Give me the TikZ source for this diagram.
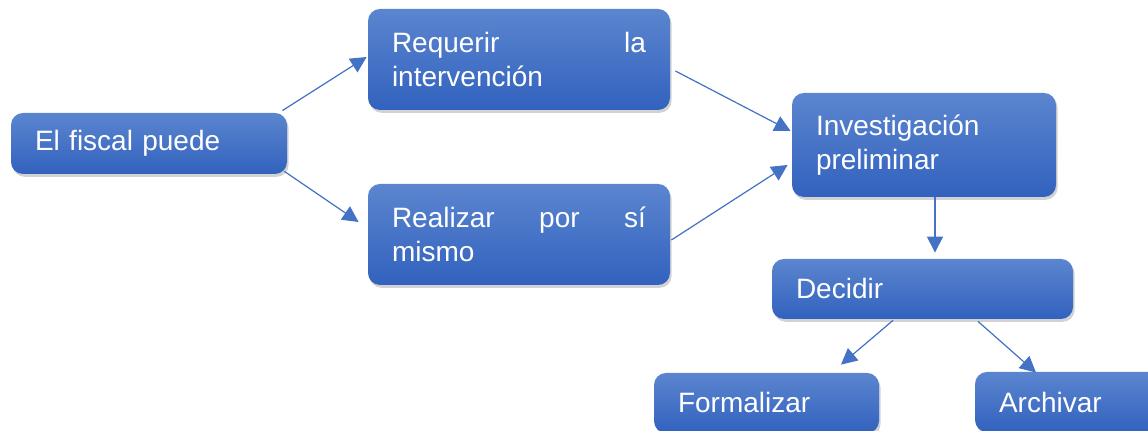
\documentclass[tikz,border=0pt]{standalone}
\usepackage{fontspec}
\setmainfont{Liberation Sans}
\usepackage{tikz}
\usetikzlibrary{arrows.meta,calc,shadows}

\definecolor{boxtop}{HTML}{5B85CF}
\definecolor{boxbot}{HTML}{3262BE}
\definecolor{arrowblue}{HTML}{4472C4}

\tikzset{
  stepbox/.style={draw=none, rounded corners=6pt, top color=boxtop, bottom color=boxbot,
    drop shadow={shadow xshift=0.8pt, shadow yshift=-1.4pt, opacity=0.35},
    text=white, align=left, inner xsep=12pt, inner ysep=0pt,
    font=\fontsize{14}{17}\selectfont},
  link/.style={-{Triangle[length=8pt,width=8pt]}, draw=arrowblue, fill=arrowblue, line width=0.6pt}
}

\begin{document}
\begin{tikzpicture}[x=0.5pt, y=-0.5pt]
  \useasboundingbox (0,0) rectangle (1148,431);
  \fill[white] (0,0) rectangle (1148,431);
  \clip (0,0) rectangle (1148,431);

  % Boxes
  \node[stepbox, text width=114pt, minimum height=30.5pt] (fiscal) at (149,143.5) {El fiscal puede};
  \node[stepbox, text width=127pt, minimum height=50.5pt] (requerir) at (519,59.5) {Requerir\hfill la\\intervención};
  \node[stepbox, text width=127pt, minimum height=50.5pt] (realizar) at (519,234.5) {Realizar\hfill por\hfill sí\\mismo};
  \node[stepbox, text width=108pt, minimum height=52pt] (invest) at (924,145) {Investigación\\preliminar};
  \node[stepbox, text width=126.5pt, minimum height=30pt] (decidir) at (922.5,289) {Decidir};
  \node[stepbox, text width=88.5pt, minimum height=30pt] (formal) at (766.5,403) {Formalizar};
  \node[stepbox, text width=88.5pt, minimum height=30pt] (archivar) at (1087.5,402) {Archivar};

  % Arrows
  \draw[link] ($(fiscal.north east)+(-5,-2)$) -- ($(requerir.west)+(-1,-2.5)$);
  \draw[link] ($(fiscal.south east)+(-3,-3)$) -- ($(realizar.west)+(-9,-12.5)$);
  \draw[link] ($(requerir.east)+(5,11.5)$) -- ($(invest.west)+(-1,-14)$);
  \draw[link] ($(realizar.east)+(1,5.5)$) -- ($(invest.west)+(-4,20)$);
  \draw[link] ($(invest.south)+(11,0)$) -- ($(decidir.north)+(12.5,-6)$);
  \draw[link] ($(decidir.south)+(-29.5,1)$) -- ($(formal.north)+(74.5,-8)$);
  \draw[link] ($(decidir.south)+(55.5,2)$) -- ($(archivar.north)+(-51.5,1)$);
\end{tikzpicture}
\end{document}
